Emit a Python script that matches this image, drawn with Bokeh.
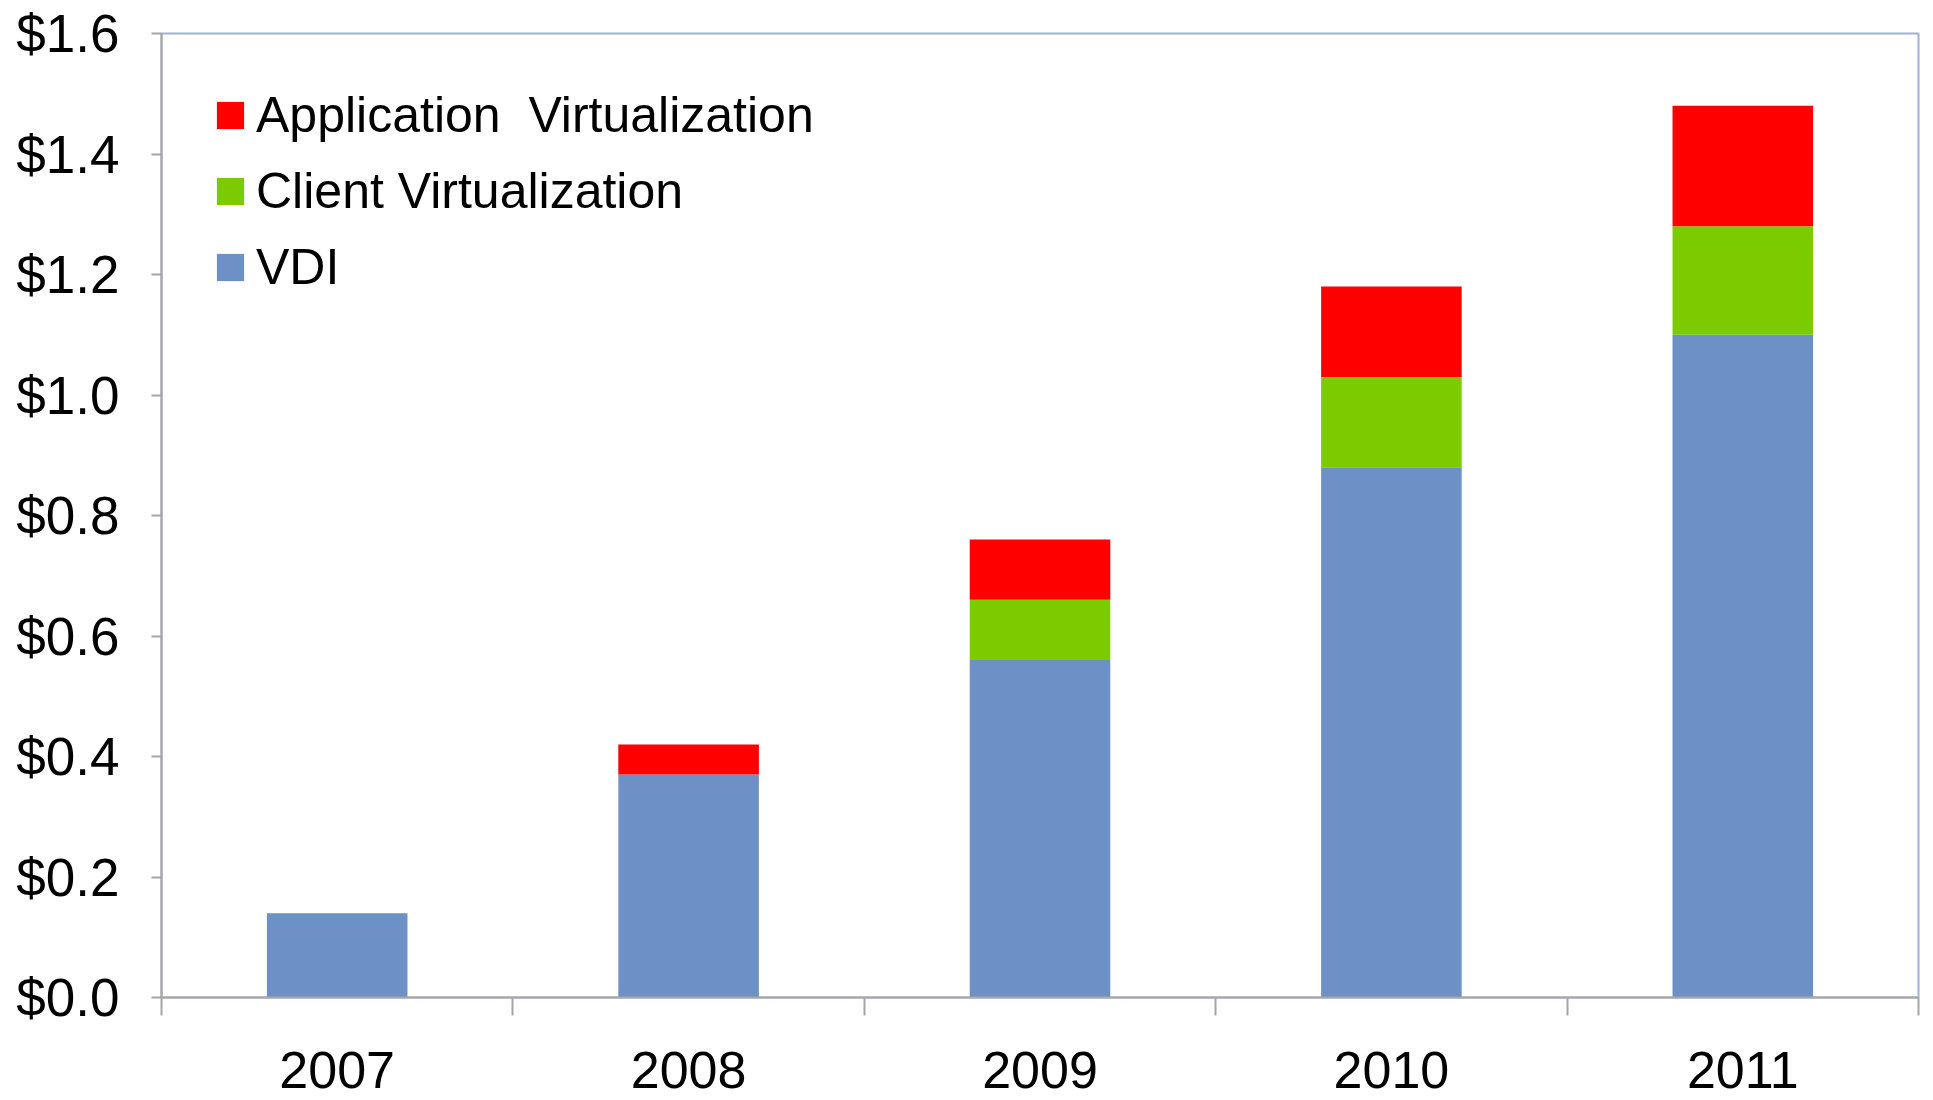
from bokeh.plotting import figure
from bokeh.models import FixedTicker, NumeralTickFormatter, Legend, LegendItem, ColumnDataSource
from bokeh.embed import file_html
from bokeh.resources import INLINE

years = ["2007", "2008", "2009", "2010", "2011"]
vdi = [0.14, 0.37, 0.56, 0.88, 1.10]
client_virt = [0.00, 0.00, 0.10, 0.15, 0.18]
app_virt = [0.00, 0.05, 0.10, 0.15, 0.20]
y_ticks = [0.0, 0.2, 0.4, 0.6, 0.8, 1.0, 1.2, 1.4, 1.6]

xs = list(range(len(years)))
src = ColumnDataSource(dict(x=xs, VDI=vdi, Client=client_virt, App=app_virt))

FONT = "Liberation Sans"

p = figure(width=1925, height=1098, output_backend="svg", toolbar_location=None,
           x_range=(-0.5, len(years) - 0.5), y_range=(0, 1.6),
           min_border_left=161, min_border_top=33, min_border_right=7, min_border_bottom=101)

stack_names = ["VDI", "Client", "App"]
colors = ["#6D91C6", "#7CCB00", "#FF0000"]
renderers = p.vbar_stack(stack_names, x="x", width=0.4, source=src,
                         fill_color=colors, line_color=None)

p.xgrid.grid_line_color = None
p.ygrid.grid_line_color = None
p.outline_line_color = "#9DB2D2"
p.outline_line_width = 2
p.background_fill_color = "white"

# y axis
p.yaxis.ticker = FixedTicker(ticks=y_ticks)
p.yaxis.formatter = NumeralTickFormatter(format="$0.0")
p.yaxis.axis_line_color = "#A6A6A6"
p.yaxis.axis_line_width = 2
p.yaxis.major_tick_line_color = "#A6A6A6"
p.yaxis.major_tick_line_width = 2
p.yaxis.major_tick_out = 10
p.yaxis.major_tick_in = 0
p.yaxis.minor_tick_line_color = None
p.yaxis.major_label_standoff = 32
p.yaxis.major_label_text_font = FONT
p.yaxis.major_label_text_font_size = "53px"
p.yaxis.major_label_text_color = "black"

# x axis
p.xaxis.ticker = FixedTicker(ticks=xs, minor_ticks=[i - 0.5 for i in range(len(years) + 1)])
p.xaxis.major_label_overrides = {i: y for i, y in enumerate(years)}
p.xaxis.axis_line_color = "#A6A6A6"
p.xaxis.axis_line_width = 2
p.xaxis.major_tick_line_color = None
p.xaxis.major_tick_out = 0
p.xaxis.major_tick_in = 0
p.xaxis.minor_tick_line_color = "#A6A6A6"
p.xaxis.minor_tick_line_width = 2
p.xaxis.minor_tick_out = 18
p.xaxis.minor_tick_in = 0
p.xaxis.major_label_standoff = 36
p.xaxis.major_label_text_font = FONT
p.xaxis.major_label_text_font_size = "52px"
p.xaxis.major_label_text_color = "black"

legend = Legend(items=[
    LegendItem(label="Application  Virtualization", renderers=[renderers[2]]),
    LegendItem(label="Client Virtualization", renderers=[renderers[1]]),
    LegendItem(label="VDI", renderers=[renderers[0]]),
], location=(52, 692))
legend.padding = 0
legend.margin = 0
legend.border_line_color = None
legend.background_fill_alpha = 0
legend.glyph_width = 34
legend.glyph_height = 34
legend.label_height = 76
legend.spacing = 0
legend.label_standoff = 9
legend.label_text_font = FONT
legend.label_text_font_size = "50px"
legend.label_text_color = "black"
p.add_layout(legend)

open("out.html", "w").write(file_html(p, INLINE))
